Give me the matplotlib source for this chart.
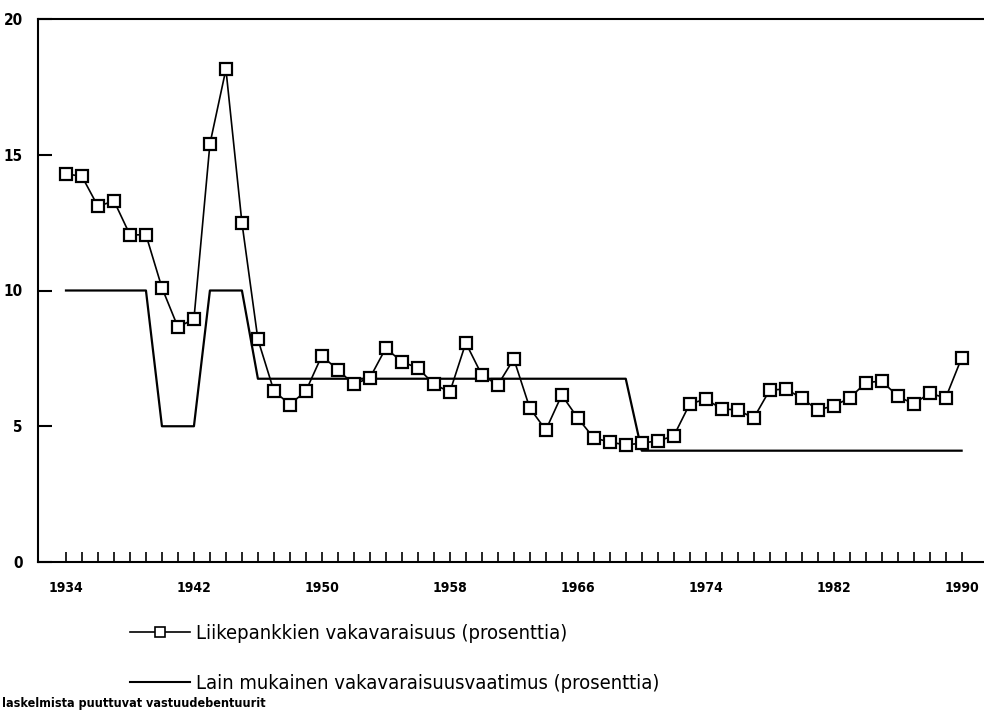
import matplotlib
matplotlib.use("Agg")
import matplotlib.pyplot as plt
from matplotlib.lines import Line2D
import numpy as np

plt.rcParams['font.family'] = ['DejaVu Sans']
plt.rcParams['font.stretch'] = 'condensed'

# ============================================================
# DATA
# ============================================================
years = list(range(1934, 1991))

# Liikepankkien vakavaraisuus (prosenttia)
solvency = [14.3, 14.2, 13.1, 13.3, 12.05, 12.05, 10.1, 8.65, 8.95, 15.4,
            18.15, 12.5, 8.2, 6.3, 5.8, 6.3, 7.6, 7.07, 6.55, 6.78,
            7.88, 7.37, 7.15, 6.55, 6.26, 8.07, 6.89, 6.52, 7.48, 5.67,
            4.86, 6.15, 5.3, 4.57, 4.42, 4.31, 4.38, 4.46, 4.64, 5.82,
            6.0, 5.64, 5.6, 5.3, 6.33, 6.37, 6.04, 5.6, 5.75, 6.04,
            6.6, 6.67, 6.11, 5.82, 6.22, 6.04, 7.51]

# Lain mukainen vakavaraisuusvaatimus (prosenttia)
requirement = ([10.0] * 6 + [5.0] * 3 + [10.0] * 3 +
               [6.75] * 24 + [4.1] * 21)

label_years = list(range(1934, 1991, 8))
y_ticks = [0, 5, 10, 15, 20]

legend_labels = ["Liikepankkien vakavaraisuus (prosenttia)",
                 "Lain mukainen vakavaraisuusvaatimus (prosenttia)"]
footnote = "laskelmista puuttuvat vastuudebentuurit"

# ============================================================
# PLOT
# ============================================================
fig = plt.figure(figsize=(9.84, 7.2), dpi=100)
ax = fig.add_axes([38 / 984, 1 - 562 / 720, 1 - 38 / 984, (562 - 19) / 720])

ax.plot(years, requirement, color='black', linewidth=1.6)
ax.plot(years, solvency, color='black', linewidth=1.2, marker='s',
        markersize=9, markerfacecolor='white', markeredgecolor='black',
        markeredgewidth=1.6)

ax.set_xlim(1932.25, 1991.4)
ax.set_ylim(0, 20)

ax.spines['right'].set_visible(False)
for s in ['left', 'top', 'bottom']:
    ax.spines[s].set_linewidth(1.5)

ax.set_yticks(y_ticks)
ax.set_yticklabels([str(v) for v in y_ticks], fontsize=11, fontweight='bold')
ax.tick_params(axis='y', direction='in', length=10, width=1.5, pad=11)

ax.set_xticks(label_years)
ax.set_xticklabels([str(y) for y in label_years], fontsize=10, fontweight='bold')
ax.set_xticks(years, minor=True)
ax.tick_params(axis='x', which='both', direction='in', length=7, width=1.2,
               pad=14)

# legend below the chart
handles = [Line2D([], [], color='black', linewidth=1.2, marker='s',
                  markersize=7, markerfacecolor='white', markeredgewidth=1.2),
           Line2D([], [], color='black', linewidth=1.5)]
fig.legend(handles, legend_labels, loc='upper left',
           bbox_to_anchor=(130 / 984, 1 - 624 / 720), frameon=False,
           fontsize=14.5, handlelength=3.0, handletextpad=0.3,
           labelspacing=1.55, borderpad=0, borderaxespad=0)

fig.text(2 / 984, 1 - 703 / 720, footnote, fontsize=9, fontweight='bold',
         va='center', ha='left')

fig.savefig("out.png", dpi=100)
